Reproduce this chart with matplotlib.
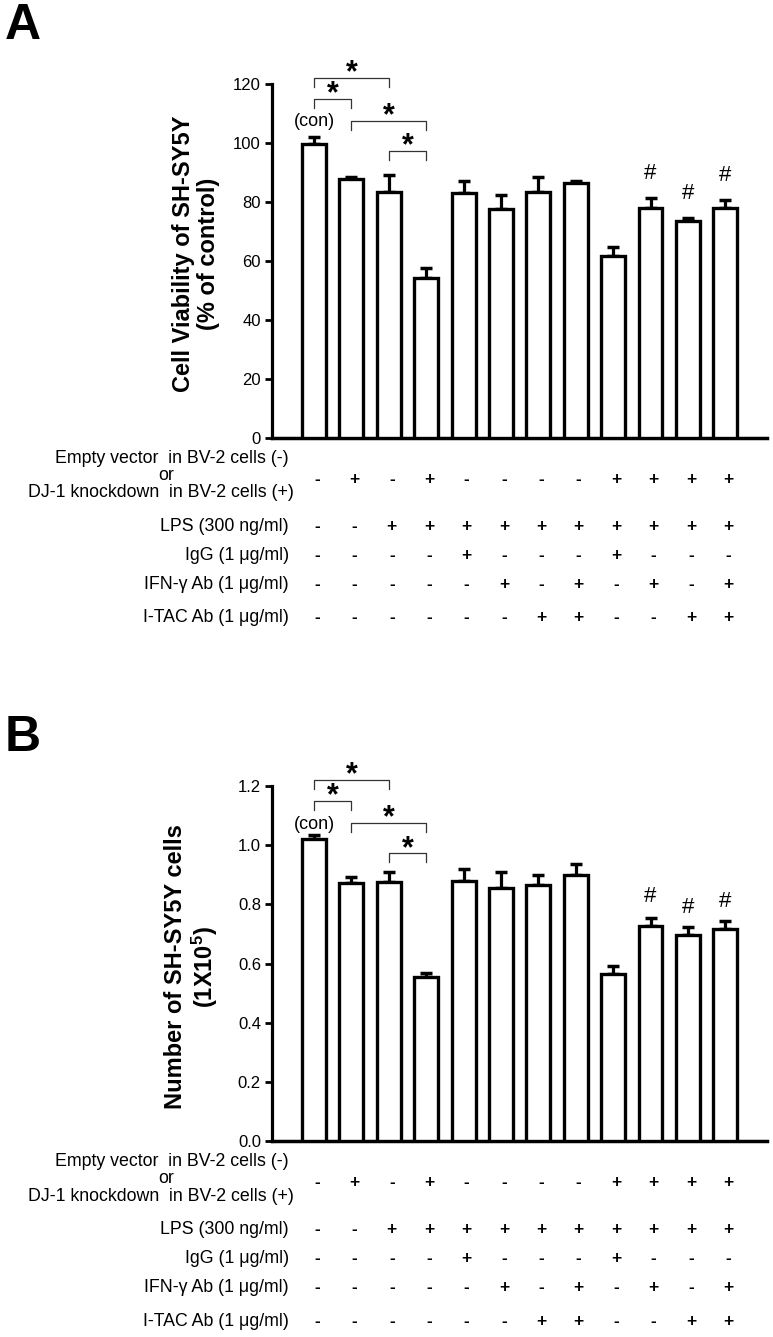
import numpy as np
import matplotlib
matplotlib.use('Agg')
import matplotlib.pyplot as plt

plt.rcParams['font.family'] = ['Liberation Sans', 'DejaVu Sans']
plt.rcParams['mathtext.fontset'] = 'custom'
plt.rcParams['mathtext.rm'] = 'Liberation Sans:bold'
plt.rcParams['mathtext.it'] = 'Liberation Sans:bold'

# bar values
viability = [99.5, 87.7, 83.5, 54.2, 83.2, 77.5, 83.3, 86.5, 61.7, 78.0, 73.5, 77.8]
viability_err = [2.5, 0.8, 5.5, 3.5, 4.0, 5.0, 5.0, 0.5, 3.0, 3.5, 1.2, 2.8]
cellnum = [1.022, 0.872, 0.875, 0.555, 0.880, 0.855, 0.865, 0.900, 0.566, 0.728, 0.695, 0.717]
cellnum_err = [0.013, 0.022, 0.035, 0.014, 0.040, 0.055, 0.035, 0.035, 0.025, 0.025, 0.028, 0.027]

# treatment table
row_labels = ['LPS (300 ng/ml)', 'IgG (1 \u03bcg/ml)', 'IFN-\u03b3 Ab (1 \u03bcg/ml)', 'I-TAC Ab (1 \u03bcg/ml)']
dj1 = '-+-+----++++'
lps = '--++++++++++'
igg = '----+---+---'
ifn = '-----+-+-+-+'
itac = '------++--++'
sign_rows = [lps, igg, ifn, itac]

# significance brackets (bar i, bar j, height as axes fraction)
brackets = [(0, 1, 0.958), (0, 2, 1.017), (1, 3, 0.896), (2, 3, 0.811)]
hash_bars = [9, 10, 11]

fig = plt.figure(figsize=(7.73, 13.37), dpi=100)


def panel(ax, vals, errs, ymax, yticks, ylabel, label_y, hash_y, fmt):
    x = np.arange(len(vals))
    ax.bar(x, vals, width=0.64, color='white', edgecolor='black', linewidth=2.4, zorder=3)
    ax.errorbar(x, vals, yerr=[np.zeros(len(errs)), errs], fmt='none', ecolor='black',
                elinewidth=2.3, capsize=4.5, capthick=2.5, zorder=2)
    ax.set_xlim(-1.12, 12.11)
    ax.set_ylim(0, ymax)
    ax.set_yticks(yticks)
    ax.set_yticklabels([fmt.format(v) for v in yticks])
    ax.set_xticks([])
    for s in ['top', 'right']:
        ax.spines[s].set_visible(False)
    ax.spines['left'].set_linewidth(2.3)
    ax.spines['bottom'].set_linewidth(2.5)
    ax.tick_params(axis='y', direction='out', length=5, width=2, labelsize=12, pad=3)
    ax.set_ylabel(ylabel, fontsize=17, fontweight='bold', linespacing=1.12)
    ax.yaxis.set_label_coords(-0.105, label_y)

    tr = ax.get_xaxis_transform()
    ax.text(0, 0.893, '(con)', transform=tr, ha='center', va='center', fontsize=13, clip_on=False)
    for i, j, h in brackets:
        ax.plot([i, i, j, j], [h - 0.026, h, h, h - 0.026], color='#333333', lw=0.9,
                transform=tr, clip_on=False)
        ax.text((i + j) / 2, h - 0.03, '*', transform=tr, ha='center', va='bottom',
                fontsize=22, fontweight='bold', clip_on=False)
    for b, y in zip(hash_bars, hash_y):
        ax.text(b, y, '#', ha='center', va='center', fontsize=16)

    # treatment table under the axis
    lab_x = 0.034
    ta = ax.transAxes
    ax.text(lab_x, -0.058, 'Empty vector  in BV-2 cells (-)', transform=ta, ha='right',
            va='center', fontsize=12.8, clip_on=False)
    ax.text(-0.215, -0.105, 'or', transform=ta, ha='center', va='center', fontsize=12.8,
            clip_on=False)
    ax.text(lab_x + 0.01, -0.155, 'DJ-1 knockdown  in BV-2 cells (+)', transform=ta,
            ha='right', va='center', fontsize=12.8, clip_on=False)
    for k, s in enumerate(dj1):
        ax.text(k + 0.08, -0.117, s, transform=tr, ha='center', va='center',
                fontsize=12.5, fontweight='bold', clip_on=False)
    row_y = [-0.25, -0.332, -0.413, -0.508]
    for lab, signs, y in zip(row_labels, sign_rows, row_y):
        ax.text(lab_x, y, lab, transform=ta, ha='right', va='center', fontsize=12.8,
                clip_on=False)
        for k, s in enumerate(signs):
            ax.text(k + 0.08, y, s, transform=tr, ha='center', va='center',
                    fontsize=12.5, fontweight='bold', clip_on=False)


axA = fig.add_axes([0.352, 0.6724, 0.640, 0.2648])
panel(axA, viability, viability_err, 120, [0, 20, 40, 60, 80, 100, 120],
      'Cell Viability of SH-SY5Y\n(% of control)', 0.52, [89.8, 83.0, 89.0], '{:.0f}')

axB = fig.add_axes([0.352, 0.1466, 0.640, 0.2655])
panel(axB, cellnum, cellnum_err, 1.2, [0, 0.2, 0.4, 0.6, 0.8, 1.0, 1.2],
      'Number of SH-SY5Y cells\n(1X10$^{5}$)', 0.49, [0.826, 0.79, 0.81], '{:.1f}')

fig.text(0.006, 0.998, 'A', fontsize=36, fontweight='bold', va='top', ha='left')
fig.text(0.006, 0.465, 'B', fontsize=36, fontweight='bold', va='top', ha='left')

fig.savefig('out.png', dpi=100)
